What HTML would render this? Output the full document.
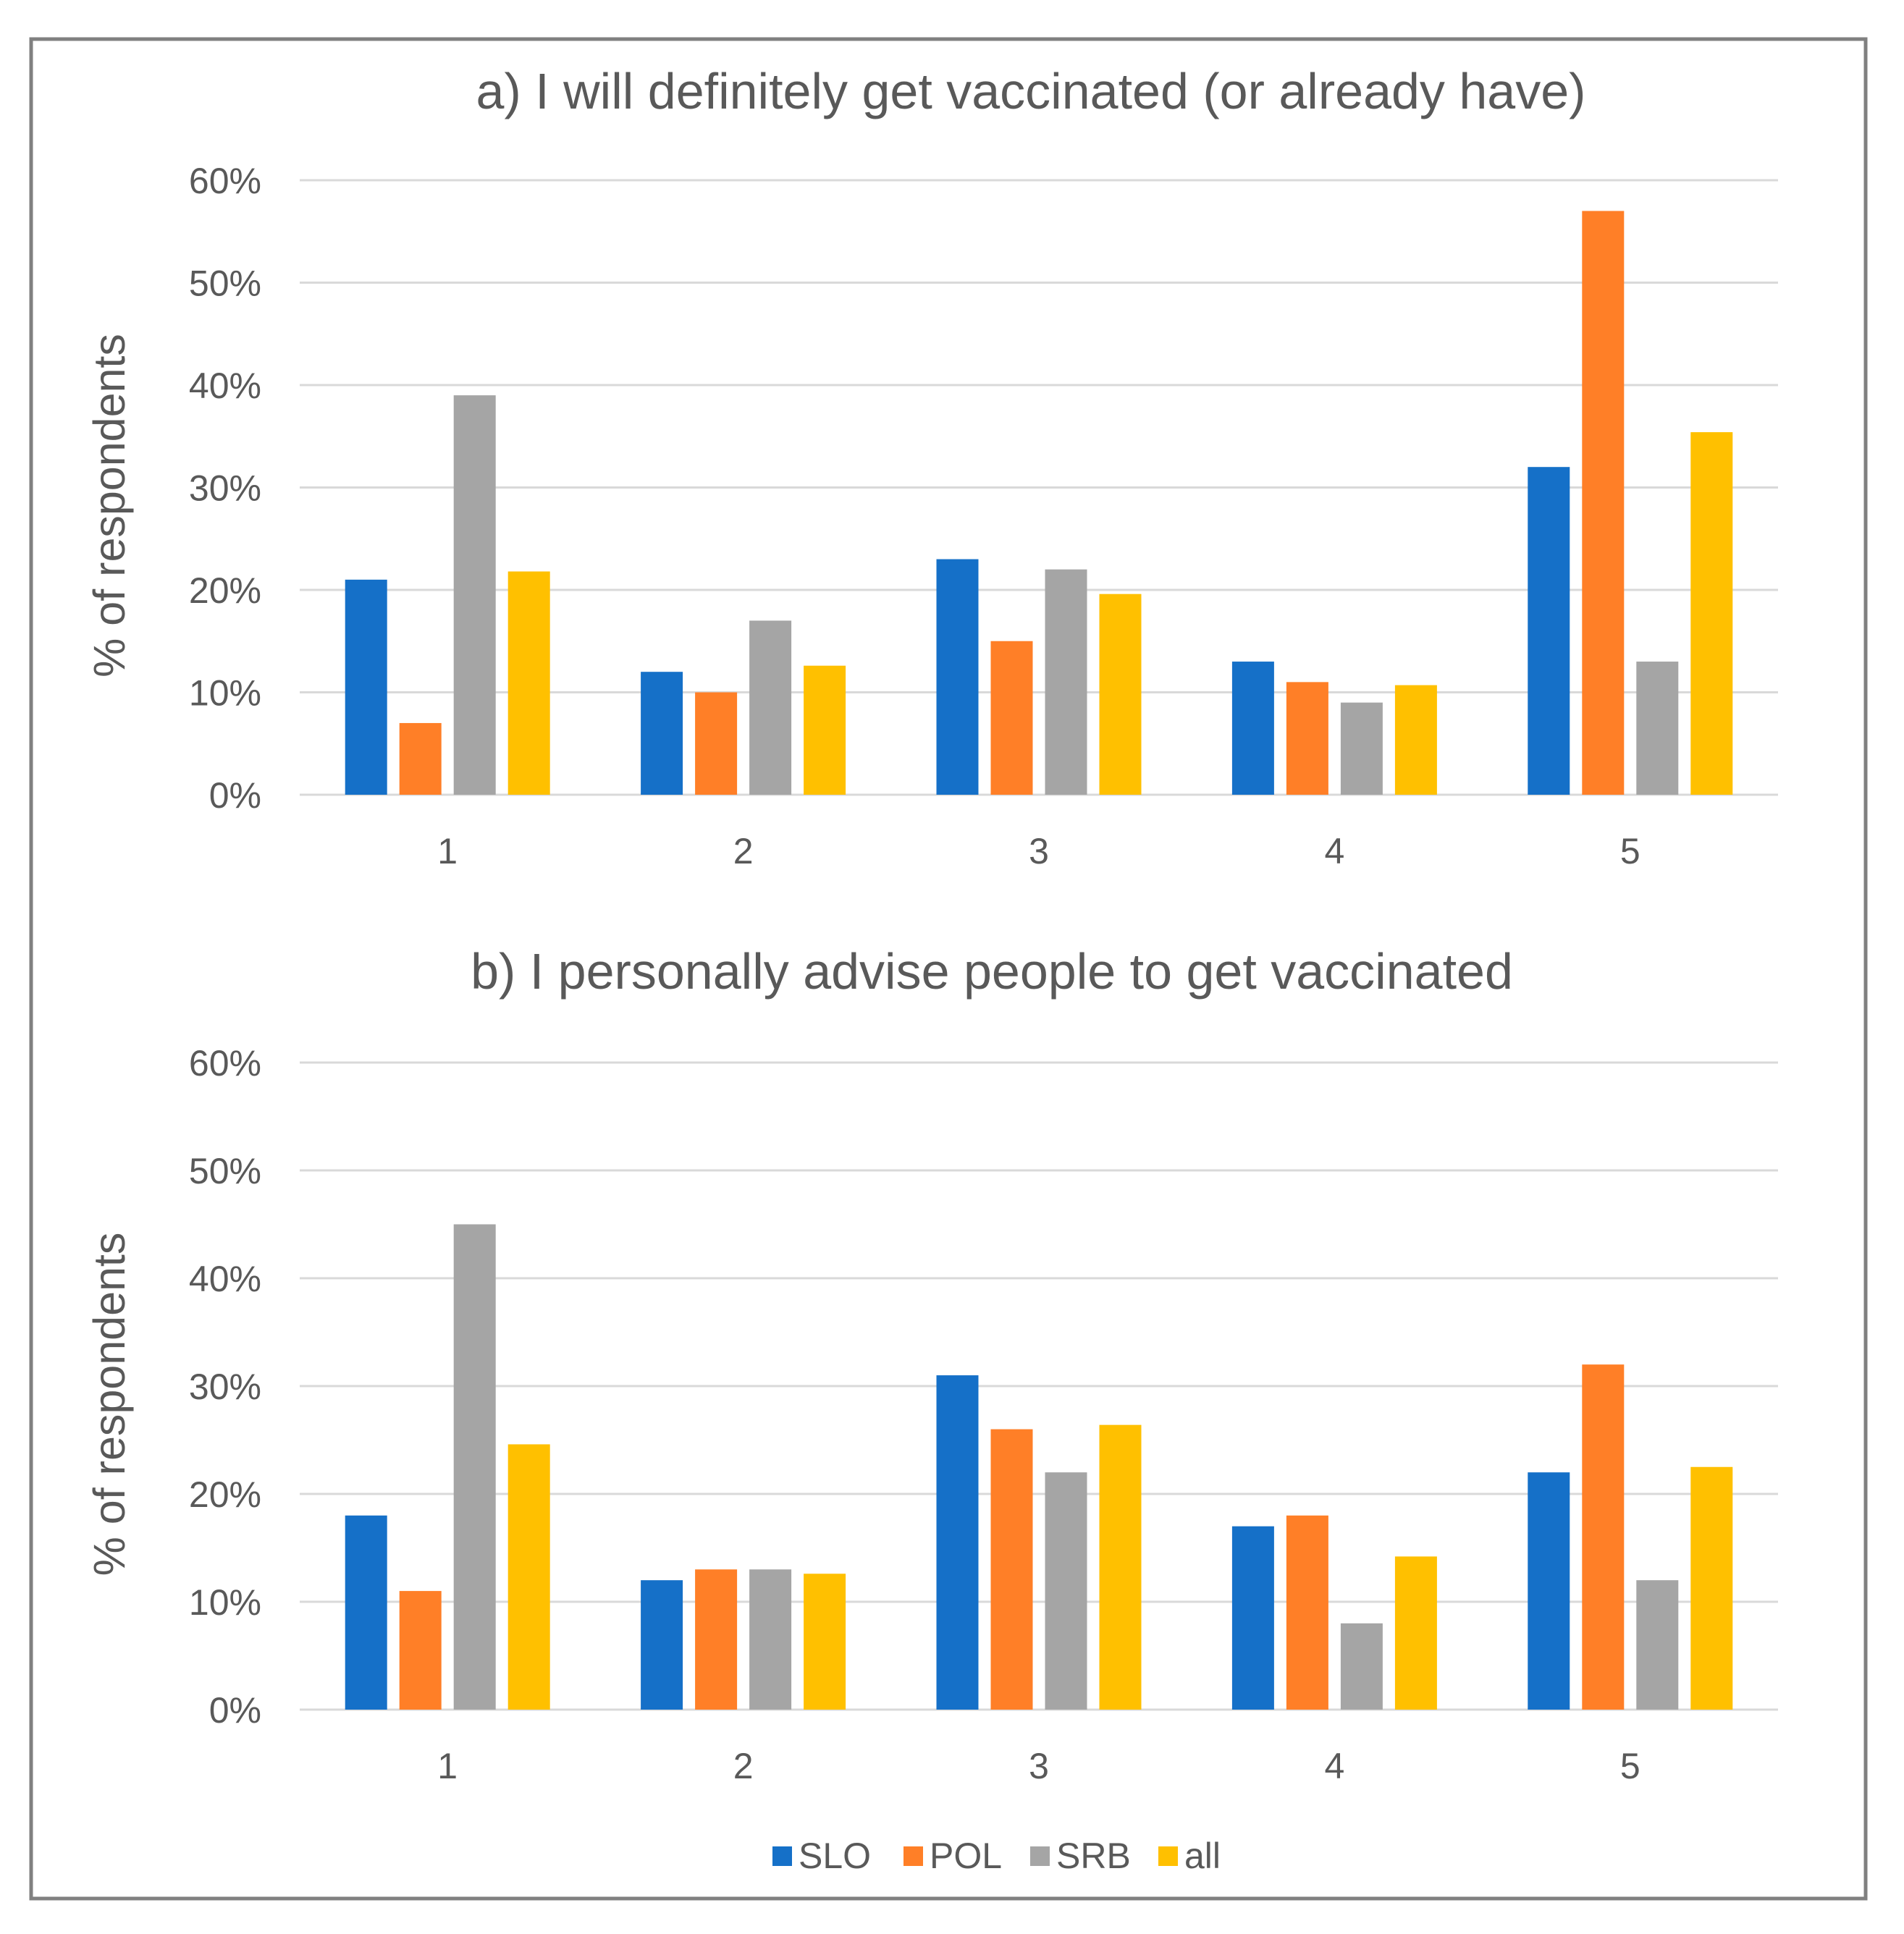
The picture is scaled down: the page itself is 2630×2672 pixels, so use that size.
<!DOCTYPE html>
<html><head><meta charset="utf-8"><style>
html,body{margin:0;padding:0;background:#fff;}
svg{display:block;}
text{font-family:"Liberation Sans",sans-serif;fill:#595959;}
</style></head><body>
<svg id="chart" width="2630" height="2672" viewBox="0 0 2630 2672" xmlns="http://www.w3.org/2000/svg">
<rect x="43" y="54" width="2534" height="2569" fill="#fff" stroke="#808080" stroke-width="5"/>
</svg>
<script>
const categories = ["1","2","3","4","5"];
const seriesNames = ["SLO","POL","SRB","all"];
const seriesColors = ["#1570C8","#FF7F27","#A5A5A5","#FFC000"];
const tickValues = [0,10,20,30,40,50,60];
const tickLabels = ["0%","10%","20%","30%","40%","50%","60%"];
const aSLO = [21,12,23,13,32];
const aPOL = [7,10,15,11,57];
const aSRB = [39,17,22,9,13];
const aAll = [21.8,12.6,19.6,10.7,35.4];
const bSLO = [18,12,31,17,22];
const bPOL = [11,13,26,18,32];
const bSRB = [45,13,22,8,12];
const bAll = [24.6,12.6,26.4,14.2,22.5];

const NS = "http://www.w3.org/2000/svg";
const svg = document.getElementById("chart");
function mk(tag, attrs, parent){const e=document.createElementNS(NS,tag);for(const k in attrs)e.setAttribute(k,attrs[k]);(parent||svg).appendChild(e);return e;}

function drawPanel(key, title, titleX, y0, y60, titleY, catY, series){
  const g = mk("g",{});
  
  
  const x0 = 414, x1 = 2456;
  const yScale = v => y0 + (y60 - y0) * v / 60;
  const catW = (x1 - x0) / categories.length;
  const xCenter = i => x0 + catW * (i + 0.5);
  const t = mk("text",{x:titleX,y:titleY,"text-anchor":"middle","font-size":70},g);
  t.textContent = title;
  
  
  tickValues.forEach((v,i)=>{
    const y = yScale(v);
    const l = mk("line",{x1:x0,x2:x1,y1:y,y2:y,stroke:"#D9D9D9","stroke-width":3},g);
    
    
    const tx = mk("text",{x:361,y:y+18,"text-anchor":"end","font-size":50},g);
    tx.textContent = tickLabels[i];
    
    
  });
  const yt = mk("text",{x:0,y:0,"text-anchor":"middle","font-size":61,transform:`translate(172,${(y0+y60)/2+25}) rotate(-90)`},g);
  yt.textContent = "% of respondents";
  
  
  const barW = 58, step = 75;
  categories.forEach((c,i)=>{
    series.forEach((s,j)=>{
      const cx = xCenter(i) + (j - 1.5) * step;
      const top = yScale(s[i]);
      const r = mk("rect",{x:cx-barW/2,y:top,width:barW,height:y0-top,fill:seriesColors[j]},g);
      
      
    });
    const cl = mk("text",{x:xCenter(i),y:catY,"text-anchor":"middle","font-size":50},g);
    cl.textContent = c;
    
    
  });
}
drawPanel("a","a) I will definitely get vaccinated (or already have)",1424,1098,249,150,1193,[aSLO,aPOL,aSRB,aAll]);
drawPanel("b","b) I personally advise people to get vaccinated",1370,2362,1468,1366,2457,[bSLO,bPOL,bSRB,bAll]);

const legend = mk("g",{});


const legendX = [1067,1248,1423,1600];
seriesNames.forEach((n,j)=>{
  const sq = mk("rect",{x:legendX[j],y:2551,width:27,height:27,fill:seriesColors[j]},legend);
  
  
  const lt = mk("text",{x:legendX[j]+36,y:2581,"font-size":50},legend);
  lt.textContent = n;
  
  
});
</script>
</body></html>
